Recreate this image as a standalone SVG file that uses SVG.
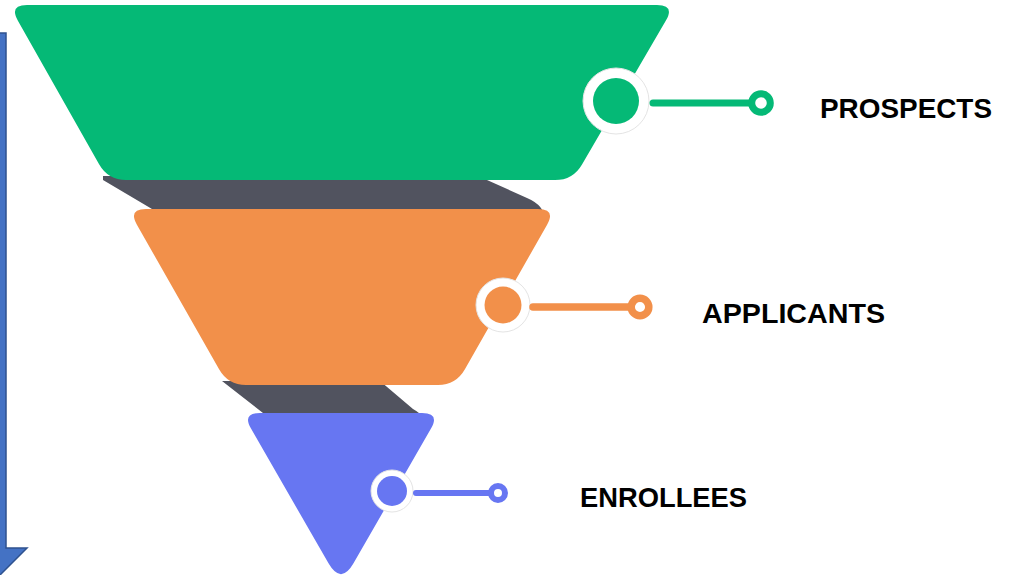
<svg xmlns="http://www.w3.org/2000/svg" width="1012" height="575" viewBox="0 0 1012 575">
<style>
.lbl{font-family:"Liberation Sans",Arial,sans-serif;font-weight:bold;font-size:28px;fill:#000}
.ring{fill:#fff;stroke:#e4e4e4;stroke-width:1}
.g{fill:#05B976}.gs{stroke:#05B976}
.o{fill:#F2904A}.os{stroke:#F2904A}
.b{fill:#6776F2}.bs{stroke:#6776F2}
.conn{fill:none;stroke-linecap:round}
.end{fill:#fff}
.shadow{fill:#51535F}
</style>
<rect width="1012" height="575" fill="#fff"/>
<g id="arrow">
<path d="M -60,33 L 6,33 L 6,548 L 27,548 L -20,595 L -67,548 Z" fill="#4472C4" stroke="#2F528F" stroke-width="1.5"/>
</g>
<g id="shadows">
<path class="shadow" d="M 103,176 L 478,176 L 527,198 Q 546,206 545,222 L 530,245 L 200,245 L 152,209 L 103,180 Z"/>
<path class="shadow" d="M 222,381 L 380,381 L 413,409 Q 429,418 427,432 L 415,450 L 300,450 L 263,413 Z"/>
</g>
<g id="prospects">
<path class="g" d="M 27,5 L 657,5 Q 675,5 665.9,20.6 L 582,164.4 Q 573,180 555,180 L 126,180 Q 108,180 99.1,164.3 L 17.9,20.7 Q 9,5 27,5 Z"/>
<circle class="ring" cx="616" cy="101" r="33"/>
<circle class="g" cx="616" cy="101" r="23"/>
<text class="lbl" x="820" y="118" textLength="172" lengthAdjust="spacingAndGlyphs">PROSPECTS</text>
</g>
<g id="applicants">
<path class="o" d="M 146,209 L 538,209 Q 556,209 547.1,224.7 L 464.9,369.3 Q 456,385 438,385 L 246,385 Q 228,385 219.1,369.3 L 136.9,224.7 Q 128,209 146,209 Z"/>
<circle class="ring" cx="503" cy="305" r="27"/>
<circle class="o" cx="503" cy="305" r="18.5"/>
<text class="lbl" x="702" y="323" textLength="183" lengthAdjust="spacingAndGlyphs">APPLICANTS</text>
</g>
<g id="enrollees">
<path class="b" d="M 260,413 L 422,413 Q 440,413 431,428.6 L 353.5,563.3 Q 341,585 328.5,563.3 L 251,428.6 Q 242,413 260,413 Z"/>
<circle class="ring" cx="392" cy="491" r="21"/>
<circle class="b" cx="392" cy="491" r="15"/>
<text class="lbl" x="580" y="507" textLength="167" lengthAdjust="spacingAndGlyphs">ENROLLEES</text>
</g>
<g id="connectors">
<line class="conn gs" x1="653" y1="103" x2="752" y2="103" stroke-width="7"/>
<circle class="end gs" cx="761" cy="103" r="9.3" stroke-width="7"/>
<line class="conn os" x1="533" y1="307" x2="631" y2="307" stroke-width="7.5"/>
<circle class="end os" cx="640" cy="307" r="8.8" stroke-width="7.5"/>
<line class="conn bs" x1="416" y1="493" x2="491" y2="493" stroke-width="6"/>
<circle class="end bs" cx="498" cy="493" r="7" stroke-width="6"/>
</g>
</svg>
